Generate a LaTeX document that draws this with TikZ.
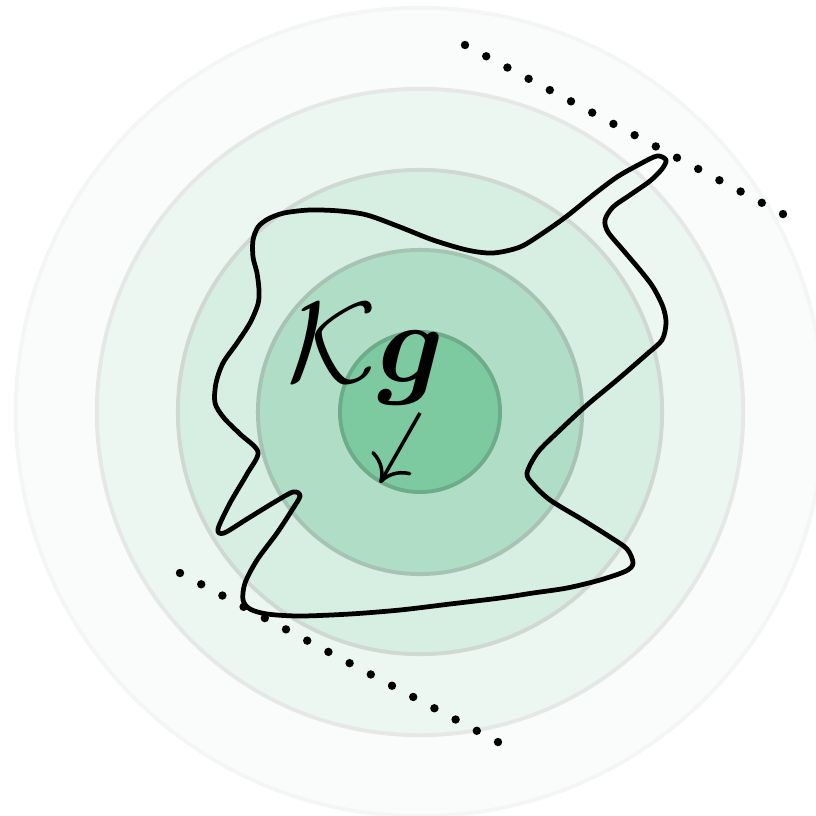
\documentclass[tikz,border=0pt]{standalone}
\usepackage{amsmath,amssymb,bm}
\usepackage{tikz}
\usetikzlibrary{calc,positioning,arrows.meta}
\definecolor{ringa}{HTML}{FAFCFB}
\definecolor{ringb}{HTML}{EDF7F1}
\definecolor{ringc}{HTML}{D7EEE2}
\definecolor{ringd}{HTML}{AFDDC5}
\definecolor{ringe}{HTML}{7ECAA0}
\definecolor{edgea}{HTML}{F4F6F5}
\definecolor{edgeb}{HTML}{E5E8E6}
\definecolor{edgec}{HTML}{D0D8D4}
\definecolor{edged}{HTML}{A6C3B3}
\definecolor{edgee}{HTML}{6DAC8A}

\begin{document}
\begin{tikzpicture}[x=0.01cm, y=-0.01cm,
    ring/.style={line width=1.1pt},
    blob/.style={line width=1.35pt, line join=round},
    dotline/.style={fill=black}]
  \useasboundingbox (0,0) rectangle (816,815);
  \coordinate (centre) at (420,412);
  \foreach \r/\fc/\dc in {4.04/ringa/edgea, 3.23/ringb/edgeb, 2.42/ringc/edgec,
    1.62/ringd/edged, 0.80/ringe/edgee}{
    \filldraw[ring, fill=\fc, draw=\dc] (centre) circle (\r cm);
  }
  \draw[blob] plot[smooth cycle, tension=0.5] coordinates {
    (253,240) (258,227) (268,219) (284,213) (310,210) (340,211) (367,215)
    (400,227) (433,240) (467,250) (493,253) (520,247) (543,233) (567,216)
    (593,195) (617,177) (640,164) (657,156) (666,160) (662,169) (650,181)
    (630,195) (613,207) (605,220) (608,232) (623,250) (640,270) (653,287)
    (663,307) (666,323) (662,340) (647,354) (617,380) (587,405) (560,430)
    (538,452) (527,473) (533,484) (550,500) (583,520) (610,537) (627,549)
    (633,563) (626,571) (600,580) (567,588) (533,593) (500,598) (450,604)
    (400,610) (350,614) (300,616) (267,614) (250,609) (243,600) (245,583)
    (257,560) (277,533) (292,510) (300,496) (293,492) (273,503) (247,519)
    (224,533) (218,529) (230,503) (247,474) (258,452) (240,434) (224,418)
    (215,403) (216,383) (223,363) (237,343) (250,323) (258,304) (259,290)
    (257,273) (253,257)};
  \foreach \i in {0,...,15}{
    \fill[dotline] (465+21.2*\i, 45+11.27*\i) circle (0.042cm);
    \fill[dotline] (180+21.2*\i, 573+11.27*\i) circle (0.042cm);
  }
  \node[inner sep=0pt, font=\Huge, scale=1.32] (label) at (366,354)
    {$\mathcal{K}\bm{g}$};
  \coordinate (tail) at (420,413);
  \coordinate (head) at (380,483);
  \draw[line width=1pt, -{To[length=7pt, width=13pt]}] (tail) -- (head);
\end{tikzpicture}
\end{document}
